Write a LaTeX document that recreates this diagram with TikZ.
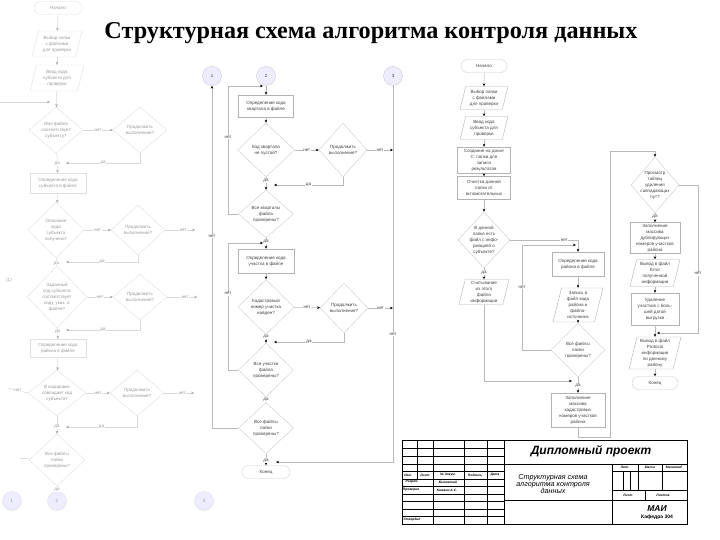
\documentclass[tikz,border=0pt]{standalone}
\usepackage{fontspec}
\setmainfont{Liberation Sans}
\newfontfamily\titlefont{Liberation Serif}
\usetikzlibrary{shapes.geometric,shapes.misc,arrows.meta}

\begin{document}
\begin{tikzpicture}[
  x=1pt, y=-1pt,
  every node/.style={font=\fontsize{4.5}{6}\selectfont,text=black!75,align=center,inner sep=0pt},
  box/.style 2 args={rectangle,draw=gray!60,fill=white,minimum width=#1pt,minimum height=#2pt},
  dec/.style 2 args={diamond,draw=gray!40,fill=white,minimum width=#1pt,minimum height=#2pt},
  io/.style 2 args={trapezium,trapezium left angle=76,trapezium right angle=104,
    trapezium stretches body,draw=gray!60,fill=white,minimum width=#1pt,
    inner xsep=0pt,inner ysep=#2*0.5pt},
  term/.style={rounded rectangle,draw=gray!40,fill=white,minimum width=48pt,minimum height=13pt},
  conn/.style={circle,draw=gray!40,fill=blue!7,minimum size=19pt},
  yes/.style={fill=white,inner sep=0.6pt},
  line/.style={draw=gray!55,line width=0.5pt},
  faded/.style={draw=gray!25},
  >={Stealth[length=3pt,width=2.6pt,color=black]}
]
  \useasboundingbox (0,0) rectangle (720,540);

  \node[font=\titlefont\bfseries\fontsize{24.2}{26}\selectfont,text=black] (title) at (371,33)
    {Структурная схема алгоритма контроля данных};

  % faded part of the previous sheet
  \begin{scope}[every node/.append style={text=black!40},
    line/.style={draw=gray!30,line width=0.5pt},
    >={Stealth[length=3pt,width=2.6pt,color=gray!70]}]
    \node[term,faded] (la) at (58,8) {Начало};
    \node[io={50}{26},faded,label={center:{Выбор папки\\с файлами\\для проверки}}] (lb) at (57,44) {};
    \node[io={54}{26},faded,label={center:{Ввод кода\\субъекта для\\проверки}}] (lc) at (57,78) {};
    \node[dec={54}{46},faded,label={center:{Имя файла\\соответствует\\субъекту?}}] (ld) at (56,130) {};
    \node[dec={54}{46},faded,label={center:{Продолжить\\выполнение?}}] (le) at (140,130) {};
    \node[box={56}{20},faded] (lf) at (58,183) {Определение кода\\субъекта в файле};
    \node[dec={56}{56},faded,label={center:{Описание\\кода\\субъекта\\получено?}}] (lg) at (56,230) {};
    \node[dec={54}{50},faded,label={center:{Продолжить\\выполнение?}}] (lh) at (138,230) {};
    \node[dec={60}{62},faded,label={center:{Заданный\\код субъекта\\соответствует\\коду, указ. в\\файле?}}] (li) at (57,297) {};
    \node[dec={54}{46},faded,label={center:{Продолжить\\выполнение?}}] (lj) at (140,297) {};
    \node[box={56}{18},faded] (lk) at (58,348) {Определение кода\\района в файле};
    \node[dec={58}{46},faded,label={center:{В кодировке\\совпадает код\\субъекта?}}] (ll) at (57,393) {};
    \node[dec={54}{46},faded,label={center:{Продолжить\\выполнение?}}] (lm) at (137,393) {};
    \node[dec={56}{52},faded,label={center:{Все файлы\\папки\\проверены?}}] (ln) at (57,460) {};
    \node[conn,faded] (lo) at (12,501) {1};
    \node[conn,faded] (lp) at (57,501) {2};
    \node[conn,faded] (lq) at (204,501) {3};
    \node (lr) at (9,280) {(1)};

    \coordinate (lx1) at (0,102);
    \coordinate (lx2) at (50,102);
    \coordinate (ly1) at (66,163);
    \coordinate (ly2) at (66,262);
    \coordinate (ly3) at (66,330);
    \coordinate (ly4) at (66,427);
    \coordinate (lz1) at (20,458);
    \coordinate (lz2) at (28,458);
    \coordinate (lz3) at (8,388);

    \draw[line,->] (la) -- (lb);
    \draw[line,->] (lb) -- (lc);
    \draw[line,->] (lc) -- (ld);
    \draw[line,->] (lx1) -- (lx2);
    \draw[line,->] (ld) -- node[yes]{нет} (le);
    \draw[line,->] (le.south) |- node[yes,pos=0.75]{да} (ly1);
    \draw[line,->] (ld) -- node[yes,pos=0.55]{да} (lf);
    \draw[line,->] (lf) -- (lg);
    \draw[line,->] (lg) -- node[yes]{нет} (lh);
    \draw[line,->] (lh.east) -- node[yes,pos=0.6]{нет} ++(30,0);
    \draw[line,->] (lh.south) |- node[yes,pos=0.75]{да} (ly2);
    \draw[line,->] (lg) -- node[yes,pos=0.75]{да} (li);
    \draw[line,->] (li) -- node[yes]{нет} (lj);
    \draw[line,->] (lj.east) -- node[yes,pos=0.6]{нет} ++(30,0);
    \draw[line,->] (lj.south) |- node[yes,pos=0.75]{да} (ly3);
    \draw[line,->] (li) -- node[yes,pos=0.4]{да} (lk);
    \draw[line,->] (lk) -- (ll);
    \draw[line] (ll.west) -- node[yes]{нет} (lz3);
    \draw[line,->] (ll) -- node[yes]{нет} (lm);
    \draw[line,->] (lm.east) -- node[yes,pos=0.6]{нет} ++(30,0);
    \draw[line,->] (lm.south) |- node[yes,pos=0.75]{да} (ly4);
    \draw[line,->] (ll) -- node[yes,pos=0.6]{да} (ln);
    \draw[line] (lz1) -- (lz2);
    \draw[line,->] (ln) -- node[yes,pos=0.6]{да} (lp);
  \end{scope}

  % middle sheet
  \node[conn] (c1) at (212,76) {1};
  \node[conn] (c2) at (266,76) {2};
  \node[conn] (c3) at (393,76) {3};
  \node[box={55}{22}] (m1) at (266,106) {Определение кода\\квартала в файле};
  \node[dec={57}{54},label={center:{Код квартала\\не пустой?}}] (m2) at (266,150) {};
  \node[dec={48}{54},label={center:{Продолжить\\выполнение?}}] (m3) at (343,150) {};
  \node[dec={55}{48},label={center:{Все кварталы\\файла\\проверены?}}] (m4) at (266,214) {};
  \node[box={56}{24}] (m5) at (266,261) {Определение кода\\участка в файле};
  \node[dec={56}{55},label={center:{Кадастровый\\номер участка\\найден?}}] (m6) at (266,307) {};
  \node[dec={48}{50},label={center:{Продолжить\\выполнение?}}] (m7) at (344,308) {};
  \node[dec={55}{54},label={center:{Все участки\\файла\\проверены?}}] (m8) at (266,370) {};
  \node[dec={55}{51},label={center:{Все файлы\\папки\\проверены?}}] (m9) at (266,428) {};
  \node[term] (m10) at (266,472) {Конец};

  \coordinate (k1) at (228,86);
  \coordinate (k2) at (263,86);
  \coordinate (k3) at (228,243);
  \coordinate (k4) at (263,243);
  \coordinate (j1) at (274,185);
  \coordinate (j2) at (274,342);
  \coordinate (j3) at (276,462);

  \draw[line,->] (c2) -- (m1);
  \draw[line,->] (m1) -- (m2);
  \draw[line,->] (m2) -- node[yes]{нет} (m3);
  \draw[line,->] (m3) -- node[yes]{нет} (m3 -| c3);
  \draw[line,->] (m3.south) |- node[yes,pos=0.75]{да} (j1);
  \draw[line,->] (m2) -- node[yes,pos=0.3]{да} (m4);
  \draw[line,->] (m4.west) -| node[yes,pos=0.8]{нет} (k1) -- (k2);
  \draw[line,->] (m4) -- node[yes,pos=0.35]{да} (m5);
  \draw[line,->] (m5) -- (m6);
  \draw[line,->] (m6) -- node[yes]{нет} (m7);
  \draw[line,->] (m7) -- node[yes]{нет} (m7 -| c3);
  \draw[line,->] (m7.south) |- node[yes,pos=0.75]{да} (j2);
  \draw[line,->] (m6) -- node[yes,pos=0.3]{да} (m8);
  \draw[line,->] (m8.west) -| node[yes,pos=0.8]{нет} (k3) -- (k4);
  \draw[line,->] (m8) -- node[yes,pos=0.4]{да} (m9);
  \draw[line,->] (m9.west) -| node[yes,pos=0.78]{нет} (c1.south);
  \draw[line,->] (m9) -- node[yes,pos=0.6]{да} (m10);
  \draw[line,->] (c3) |- node[yes,pos=0.33]{нет} (j3);

  % right sheet
  \node[term,minimum width=46pt] (r1) at (484,66) {Начало};
  \node[io={48}{23},label={center:{Выбор папки\\с файлами\\для проверки}}] (r2) at (484,98) {};
  \node[io={48}{23},label={center:{Ввод кода\\субъекта для\\проверки}}] (r3) at (484,128) {};
  \node[box={53}{26}] (r4) at (484,160) {Создание на диске\\С: папки для\\записи\\результатов};
  \node[box={53}{23}] (r5) at (484,188) {Очистка данной\\папки от\\вспомогательных};
  \node[dec={52}{56},label={center:{В данной\\папке есть\\файл с инфо-\\рмацией о\\субъекте?}}] (r6) at (484,240) {};
  \node[io={50}{25},label={center:{Считывание\\из этого\\файла\\информации}}] (r7) at (484,292) {};
  \node[box={52}{24}] (r8) at (578,264) {Определение кода\\района в файле};
  \node[io={50}{34},label={center:{Запись в\\файл кода\\района и\\файла-\\источника}}] (r9) at (578,305) {};
  \node[dec={54}{54},label={center:{Все файлы\\папки\\проверены?}}] (r10) at (578,350) {};
  \node[box={54}{34}] (r11) at (578,410) {Заполнение\\массива\\кадастровых\\номеров участков\\района};
  \node[dec={48}{56},label={center:{Просмотр\\таблиц\\удаления\\совпадающих\\пут?}}] (r12) at (655,185) {};
  \node[box={50}{31}] (r13) at (655,238) {Заполнение\\массива\\дублирующих\\номеров участков\\района};
  \node[io={50}{27},label={center:{Вывод в файл\\Error\\полученной\\информации}}] (r14) at (655,273) {};
  \node[box={48}{32}] (r15) at (655,309) {Удаление\\участков с боль-\\шей датой\\выгрузки};
  \node[io={52}{32},label={center:{Вывод в файл\\Protocol\\информации\\по данному\\району}}] (r16) at (655,353) {};
  \node[term,minimum width=46pt] (r17) at (655,383) {Конец};

  \coordinate (q1) at (522,245);
  \coordinate (q2) at (576,245);
  \coordinate (q3) at (572,381);
  \coordinate (p1) at (610,437);
  \coordinate (p2) at (610,151);
  \coordinate (n1) at (698,333);
  \coordinate (n2) at (657,333);

  \draw[line,->] (r1) -- (r2);
  \draw[line,->] (r2) -- (r3);
  \draw[line,->] (r3) -- (r4);
  \draw[line,->] (r4) -- (r5);
  \draw[line,->] (r5) -- (r6);
  \draw[line,->] (r6) -- node[yes,pos=0.4]{да} (r7);
  \draw[line,->] (r6.east) -| node[yes,pos=0.4]{нет} (r8.north);
  \draw[line,->] (r8) -- (r9);
  \draw[line,->] (r9) -- (r10);
  \draw[line,->] (r10.west) -| node[yes,pos=0.8]{нет} (q1) -- (q2);
  \draw[line,->] (r10) -- node[yes,pos=0.55]{да} (r11);
  \draw[line,->] (r7.south) |- (q3);
  \draw[line,->] (r11.south) |- (p1) -- (p2) -| (r12.north);
  \draw[line,->] (r12) -- node[yes,pos=0.4]{да} (r13);
  \draw[line,->] (r12.east) -| node[yes,pos=0.8]{нет} (n1) -- (n2);
  \draw[line,->] (r13) -- (r14);
  \draw[line,->] (r14) -- (r15);
  \draw[line,->] (r15) -- (r16);
  \draw[line,->] (r16) -- (r17);

  % title block
  \draw[line width=0.7pt] (402,440) rectangle (687,524) (504,440) -- (504,524);
  \draw[line width=0.4pt]
    (402,448) -- (504,448) (402,456) -- (504,456) (402,464) -- (504,464)
    (402,471) -- (504,471) (402,479) -- (504,479) (402,486) -- (504,486)
    (402,494) -- (504,494) (402,501) -- (504,501) (402,509) -- (504,509)
    (402,516) -- (504,516)
    (417,440) -- (417,479) (433,440) -- (433,524) (464,440) -- (464,524)
    (487,440) -- (487,524)
    (504,464) -- (687,464) (504,500) -- (687,500) (612,464) -- (612,524)
    (612,471) -- (687,471) (612,490) -- (687,490)
    (638,464) -- (638,490) (662,464) -- (662,490)
    (623,471) -- (623,490) (630,471) -- (630,490) (645,490) -- (645,500);

  \begin{scope}[every node/.append style={text=black,font=\fontsize{3.3}{4}\selectfont\bfseries\itshape}]
    \node (s1) at (408,475) {Изм.};
    \node (s2) at (425,475) {Лист};
    \node (s3) at (448,475) {№ докум.};
    \node (s4) at (475,475) {Подпись};
    \node (s5) at (495,475) {Дата};
    \node (s6) at (412,482) {Разраб.};
    \node (s7) at (448,482) {Быковский};
    \node (s8) at (411,490) {Проверил};
    \node (s9) at (447,490) {Кишкин А.С.};
    \node (s10) at (412,520) {Утвердил};
    \node (s11) at (625,467) {Лит.};
    \node (s12) at (650,467) {Масса};
    \node (s13) at (674,467) {Масштаб};
    \node (s14) at (628,495) {Лист};
    \node (s15) at (663,495) {Листов};
  \end{scope}
  \node[text=black,font=\fontsize{12}{14}\selectfont\bfseries\itshape] (s16) at (591,451) {Дипломный проект};
  \node[text=black,font=\fontsize{7.2}{7.4}\selectfont\itshape] (s17) at (553,484)
    {Структурная схема\\алгоритма контроля\\данных};
  \node[text=black,font=\fontsize{8.5}{9}\selectfont\bfseries\itshape] (s18) at (657,509) {МАИ};
  \node[text=black,font=\fontsize{5}{6}\selectfont\bfseries] (s19) at (657,517) {Кафедра 304};
\end{tikzpicture}
\end{document}
